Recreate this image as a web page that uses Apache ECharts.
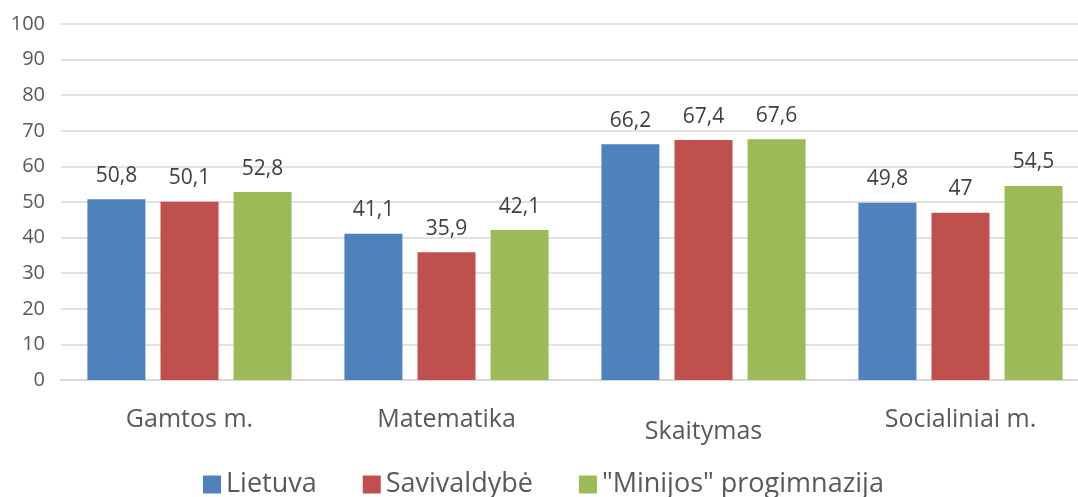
<!DOCTYPE html>
<html>
<head>
<meta charset="utf-8">
<script src="https://cdn.jsdelivr.net/npm/echarts@6/dist/echarts.min.js"></script>
<style>
  html, body { margin: 0; padding: 0; background: #fff; overflow: hidden; }
  /* paveiksle diagrama išeina už dešiniojo krašto */
  #chart { width: 1089px; height: 497px; }
</style>
</head>
<body>
<div id="chart"></div>
<script>
// dalykai
var categories = ["Gamtos m.", "Matematika", "Skaitymas", "Socialiniai m."];
var seriesNames = ["Lietuva", "Savivaldybė", "\"Minijos\" progimnazija"];
var lietuva = [50.8, 41.1, 66.2, 49.8];
var savivaldybe = [50.1, 35.9, 67.4, 47];
var minijos = [52.8, 42.1, 67.6, 54.5];
var colors = ["#4F81BD", "#C0504D", "#9BBB59"];

var font = "'Open Sans', 'Noto Sans', sans-serif";

var myChart = echarts.init(document.getElementById("chart"));

function barSeries(name, data, color) {
  return {
    name: name,
    type: "bar",
    data: data,
    barWidth: 58,
    barGap: "26%",
    itemStyle: { color: color },
    label: {
      show: true,
      position: "top",
      distance: 13,
      color: "#404040",
      fontFamily: font,
      fontSize: 21,
      formatter: function (p) {
        return String(p.value).replace(".", ",");
      },
    },
  };
}

var options = {
  animation: false,
  color: colors,
  grid: {
    left: 61,
    right: 0,
    top: 24,
    bottom: 117,
    containLabel: false,
  },
  legend: {
    top: 466,
    left: 198,
    itemWidth: 18,
    itemHeight: 18,
    itemGap: 46,
    icon: "rect",
    textStyle: { color: "#595959", fontFamily: font, fontSize: 27 },
  },
  xAxis: {
    type: "category",
    data: categories.map(function (c) {
      // Skaitymas paveiksle nuleistas žemiau
      return c === "Skaitymas" ? { value: c, textStyle: { padding: [12, 0, 0, 0] } } : c;
    }),
    axisLine: { lineStyle: { color: "#D9D9D9", width: 2 } },
    axisTick: { show: false },
    axisLabel: { color: "#595959", fontFamily: font, fontSize: 25, margin: 27 },
  },
  yAxis: {
    type: "value",
    min: 0,
    max: 100,
    interval: 10,
    axisLine: { show: false },
    axisTick: { show: false },
    axisLabel: { color: "#595959", fontFamily: font, fontSize: 20, margin: 16 },
    splitLine: { lineStyle: { color: "#D9D9D9", width: 1.5 } },
  },
  series: [
    barSeries(seriesNames[0], lietuva, colors[0]),
    barSeries(seriesNames[1], savivaldybe, colors[1]),
    barSeries(seriesNames[2], minijos, colors[2]),
  ],
};

myChart.setOption(options);
window.addEventListener("resize", function () {
  myChart.resize();
});
</script>
</body>
</html>
